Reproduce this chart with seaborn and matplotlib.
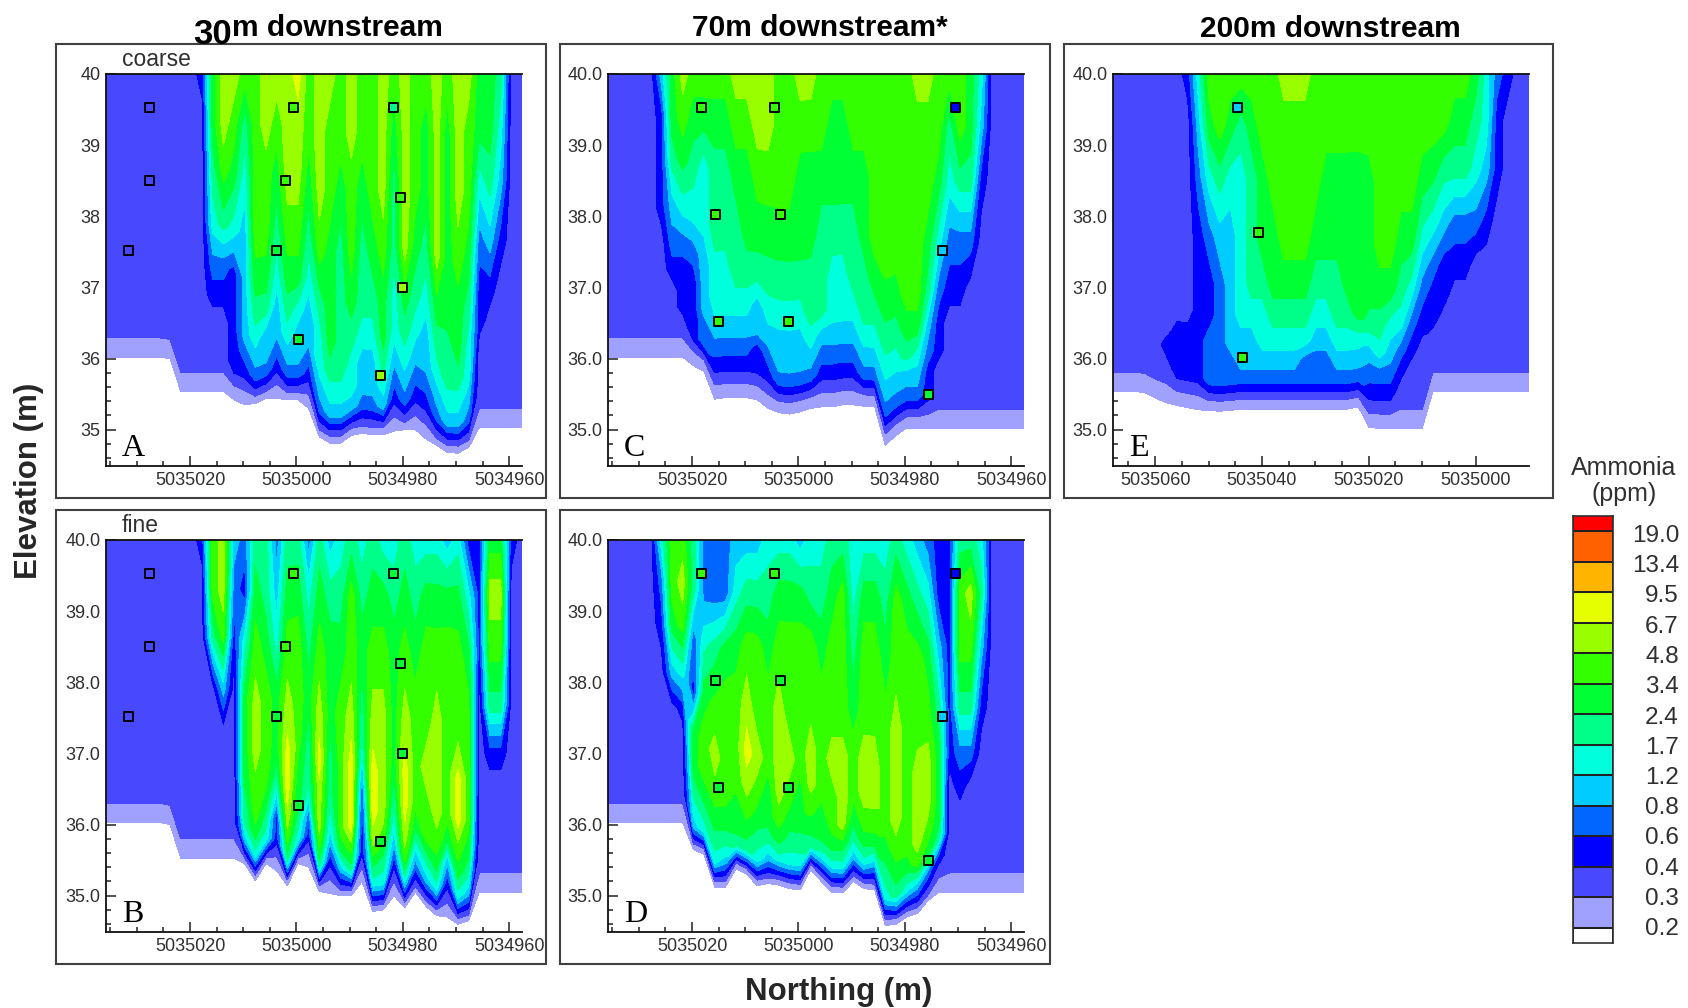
import numpy as np
import matplotlib
matplotlib.use("Agg")
import matplotlib.pyplot as plt
from matplotlib.patches import Rectangle
import seaborn as sns

W, H = 1688, 1008
BAND_COLORS = ["#FFFFFF", "#A0A0FF", "#4848FF", "#0000FF", "#0066FF", "#00CCFF", "#00FFDD", "#00FF88",
               "#00FF33", "#33FF00", "#99FF00", "#E6FF00", "#FFB400", "#FF6000", "#FF0000"]
PPM_LABELS = ["19.0", "13.4", "9.5", "6.7", "4.8", "3.4", "2.4", "1.7", "1.2", "0.8", "0.6", "0.4", "0.3", "0.2"]
OUT = [2] * 9
FRACTIONS = [.06, .12, .18, .26, .36, .5, .68, .84, 1.0]

BED_A = [36.02]*6 + [36.0] + [35.54]*5 + [35.42, 35.35, 35.37, 35.44, 35.44, 35.42, 35.42, 35.3, 34.9, 34.81, 34.81,
         34.92, 34.95, 34.93, 34.93, 34.98, 35.0, 35.0, 34.87, 34.78, 34.68, 34.67, 34.75] + [35.03]*5
PROFILES_A = [OUT]*9 + [
    [2,2,2,2,2,2,2,2,3],[2,2,2,3,4,6,7,8,8],[2,2,2,3,4,7,9,10,10],[3,3,3,3,3,6,8,9,10],[3,4,5,5,5,5,6,7,9],
    [4,5,6,7,8,9,9,9,9],[4,5,5,7,8,9,9,10,10],[3,4,5,5,6,7,8,9,10],[4,5,6,7,8,9,10,10,10],[4,5,5,6,8,9,10,10,11],
    [3,4,5,5,6,7,8,9,9],[4,5,6,6,7,9,10,10,10],[5,6,7,8,8,8,9,9,10],[5,6,7,7,7,7,8,9,9],[5,6,6,7,8,9,9,10,10],
    [4,5,5,6,7,7,8,9,9],[4,5,5,6,7,8,9,9,9],[5,6,7,8,8,9,10,10,10],[3,4,5,6,6,7,7,8,9],[4,5,6,7,8,10,10,10,10],
    [3,4,5,6,7,8,9,9,9],[3,4,5,5,6,7,8,8,9],[4,5,6,7,8,10,10,10,10],[5,6,7,7,8,8,8,8,9],[5,6,7,8,8,9,10,10,10],
    [4,5,6,6,7,8,9,9,10],[2,2,2,3,3,4,6,8,8],[2,2,2,2,3,5,7,8,8],[2,2,2,2,2,3,5,6,7],OUT,OUT]

BED_B = [36.03]*6 + [36.0] + [35.53]*6 + [35.45, 35.21, 35.45, 35.35, 35.14, 35.45, 35.4, 35.06, 35.03, 35.0, 35.0,
         35.2, 34.78, 34.8, 35.0, 34.83, 35.05, 34.85, 34.72, 34.7, 34.6, 34.65] + [35.05]*5
PROFILES_B = [OUT]*9 + [
    [2,2,2,2,2,2,2,2,3],[2,2,2,2,2,2,7,9,9],[2,2,2,2,2,5,9,10,10],[2,2,2,2,2,2,3,4,5],[5,7,7,8,8,8,6,3,4],
    [6,8,9,9,10,10,9,8,7],[6,7,8,9,9,9,8,7,7],[3,3,5,7,8,8,6,5,4],[7,9,10,11,11,10,9,8,7],[6,7,8,8,9,9,9,8,7],
    [3,4,6,7,7,8,7,6,4],[7,9,10,10,11,10,9,8,7],[3,5,6,7,7,8,8,7,5],[5,8,9,9,9,9,8,7,6],[7,9,11,11,11,10,9,9,7],
    [3,3,3,4,6,7,8,7,6],[6,8,10,11,11,10,9,8,7],[6,7,9,10,10,10,9,8,6],[3,5,6,7,8,8,8,7,6],[6,9,10,11,11,10,9,8,7],
    [4,6,8,9,9,9,8,7,6],[5,7,9,9,10,9,9,8,6],[6,8,9,10,10,10,9,8,6],[3,5,8,9,9,9,9,8,5],[6,8,9,11,11,9,9,8,6],
    [5,7,8,9,9,9,8,6,3],[2,2,2,2,2,2,3,3,3],[2,2,2,2,3,7,9,10,8],[2,2,2,2,3,7,9,10,8],[2,2,2,2,2,2,2,2,3],OUT]

BED_C = [36.02]*8 + [35.9, 35.82, 35.43, 35.45, 35.45, 35.45, 35.42, 35.3, 35.24, 35.22, 35.25, 35.3, 35.32, 35.32,
         35.35, 35.35, 35.33, 35.32, 34.78, 34.92] + [35.02]*12
PROFILES_C = [OUT]*5 + [
    [2,2,2,2,2,3,3,3,5],[2,2,2,3,4,5,7,8,8],[2,3,3,3,4,6,8,9,10],[3,3,3,3,4,6,7,8,9],[4,4,5,5,5,6,6,8,9],
    [3,4,5,6,6,7,7,8,9],[3,4,5,6,6,7,7,8,9],[3,4,5,6,7,7,8,9,10],[3,4,5,6,7,8,8,9,10],[3,3,5,5,7,8,9,10,10],
    [3,4,5,6,7,8,9,10,10],[4,5,5,6,7,8,9,9,9],[4,5,5,6,7,8,9,9,9],[4,5,5,6,7,8,8,9,10],[4,5,6,7,7,8,8,9,10],
    [3,4,5,7,7,7,8,9,9],[3,4,5,6,6,7,8,8,9],[3,4,5,6,6,7,8,8,9],[3,4,5,6,7,7,8,9,9],[4,5,6,7,7,8,8,9,9],
    [4,5,6,7,8,9,9,9,9],[4,5,6,7,8,9,9,9,9],[4,5,6,7,8,9,9,9,9],[4,5,7,8,9,9,9,9,9],[4,5,6,8,9,9,9,9,10],
    [3,3,4,5,7,8,9,9,10],[2,2,3,3,4,6,8,9,9],[2,2,2,2,3,4,6,7,9],[2,2,2,2,3,4,7,9,9],[2,2,2,2,2,4,7,8,8],
    [2,2,2,2,2,2,3,5,6],OUT,OUT,OUT,OUT]

BED_D = [36.03]*8 + [35.65, 35.58, 35.12, 35.12, 35.38, 35.3, 35.14, 35.17, 35.15, 35.1, 35.08, 35.36, 35.2, 35.05,
         35.04, 35.2, 35.1, 35.08, 34.58, 34.6, 34.7, 34.75, 34.93] + [35.05]*9
PROFILES_D = [OUT]*5 + [
    [2,2,2,2,2,2,3,4,6],[2,2,2,2,2,5,8,9,9],[2,2,2,2,3,6,9,10,9],[5,6,7,8,8,3,4,7,7],[6,7,8,9,9,8,6,4,4],
    [6,7,8,9,10,9,7,4,4],[5,7,8,9,9,9,8,4,4],[7,8,8,9,9,9,8,6,5],[7,8,9,10,11,10,9,7,5],[6,7,8,9,10,9,9,7,5],
    [5,7,8,8,9,9,8,7,6],[6,8,9,10,10,10,9,8,6],[6,7,8,9,10,9,9,8,6],[6,7,8,8,9,9,9,8,5],[7,8,9,10,10,9,9,7,6],
    [6,8,8,9,9,9,8,7,6],[6,8,9,9,10,9,9,8,7],[6,8,10,10,10,9,9,9,7],[5,7,8,9,9,8,7,6,6],[6,8,9,10,10,9,9,8,6],
    [5,8,9,10,10,9,9,8,6],[6,7,8,9,9,9,8,7,6],[7,8,9,10,10,10,9,9,7],[6,8,9,9,9,9,9,8,6],[5,9,10,10,10,9,9,7,5],
    [4,8,9,10,10,9,8,6,4],[3,7,8,8,8,7,5,3,3],[2,2,2,2,3,3,3,3,3],[2,2,2,3,4,7,9,9,7],[2,2,2,2,4,7,9,10,7],
    [2,2,2,2,2,3,5,7,6],OUT,OUT,OUT,OUT]

BED_E = [35.54]*3 + [35.52, 35.44, 35.38, 35.34, 35.31, 35.28, 35.27, 35.26, 35.27] + [35.29]*11 + [35.32] + \
        [35.03, 35.02, 35.02, 35.02, 35.02, 35.02] + [35.54]*10
PROFILES_E = [OUT]*5 + [
    [2,3,2,2,2,2,2,2,2],[3,3,3,2,2,2,2,2,2],[3,3,3,2,2,2,2,2,3],[3,3,3,3,3,3,4,5,6],[4,4,4,3,3,4,6,8,9],
    [4,4,4,4,4,5,7,9,9],[4,4,5,5,5,5,6,8,9],[4,5,5,6,6,6,6,7,9],[4,5,5,6,7,7,7,8,9],[4,5,6,6,7,8,8,9,9],
    [4,5,6,7,8,8,9,9,9],[4,5,6,7,8,9,9,9,10],[4,5,6,7,8,9,9,9,10],[4,4,6,7,8,9,9,9,10],[4,4,5,6,7,8,9,9,9],
    [4,4,5,6,7,8,8,9,9],[4,5,6,7,7,8,8,9,9],[4,5,6,7,8,8,8,9,9],[4,5,6,8,8,8,8,9,9],[3,4,5,7,8,8,8,9,9],
    [3,4,6,7,8,9,9,9,9],[3,4,5,6,8,9,9,9,9],[2,3,4,6,7,8,9,9,9],[2,2,3,4,6,8,9,9,9],[2,2,2,3,4,6,8,9,9],
    [2,2,3,3,4,6,8,9,9],[2,2,2,3,3,5,7,9,9],[2,2,2,2,3,4,7,8,9],[2,2,2,2,3,4,7,8,9],[2,2,2,2,2,4,6,7,8],
    [2,2,2,2,2,3,5,6,6],[2,2,2,2,2,2,3,3,4],[2,2,2,2,2,2,2,2,3],OUT,OUT]

ST_AB_N = [5035027.7, 5035027.7, 5035031.6, 5035000.5, 5035002.0, 5035003.7, 5034999.7, 5034981.7, 5034980.5, 5034980.0, 5034984.2]
ST_AB_E = [39.53, 38.51, 37.52, 39.53, 38.51, 37.52, 36.27, 39.53, 38.26, 37.0, 35.76]
ST_A_BAND = [2, 2, 2, 9, 9, 8, 8, 7, 9, 10, 10]
ST_B_BAND = [2, 2, 2, 9, 9, 8, 8, 8, 8, 8, 8]
ST_CD_N = [5035018.3, 5035004.5, 5034970.5, 5035015.5, 5035003.4, 5034973.0, 5035015.0, 5035001.9, 5034975.5]
ST_CD_E = [39.53, 39.53, 39.53, 38.03, 38.03, 37.52, 36.52, 36.52, 35.5]
ST_C_BAND = [9, 9, 3, 9, 9, 5, 9, 9, 8]
ST_D_BAND = [9, 9, 3, 8, 8, 5, 8, 8, 8]
ST_E_N = [5035044.5, 5035040.6, 5035043.7]
ST_E_E = [39.53, 37.77, 36.01]
ST_E_BAND = [5, 9, 9]

sns.set_theme(style="white")
plt.rcParams["font.family"] = ["Liberation Sans", "DejaVu Sans"]
fig = plt.figure(figsize=(W / 100, H / 100), dpi=100)
fig.patch.set_facecolor("white")
TXT = "#303030"


def box(x0, y0, x1, y1):
    return [x0 / W, 1 - y1 / H, (x1 - x0) / W, (y1 - y0) / H]


def panel(frame, axbox, xlim, bed, profiles, st_n, st_e, st_band, letter, major, ydec, thin, note=None):
    fx0, fy0, fx1, fy1 = frame
    fig.add_artist(Rectangle((fx0 / W, 1 - fy1 / H), (fx1 - fx0) / W, (fy1 - fy0) / H, transform=fig.transFigure,
                             fill=False, edgecolor="#404040", linewidth=1.5))
    ax = fig.add_axes(box(*axbox))
    ax.set_facecolor("white")
    n = len(bed)
    north = np.linspace(xlim[0], xlim[1], n)
    bed = np.array(bed, float)
    prof = np.array(profiles, float).T
    # the pale lowest band is thick outside the plume and thin beneath it
    lav = np.where(prof[0] <= 2, .27, np.where(prof[0] <= 3, .2, thin))
    y1 = bed + lav
    frac = np.array(FRACTIONS)[:, None]
    Y = np.vstack([bed, y1, y1 + frac * (40 - y1)])
    X = np.tile(north, (Y.shape[0], 1))
    Z = np.vstack([np.full(n, .5), np.full(n, 1.5), prof])
    levels = [0.4] + [k + .5 for k in range(1, 12)]
    ax.contourf(X, Y, Z, levels=levels, colors=BAND_COLORS[1:12], zorder=1)
    sns.scatterplot(x=st_n, y=st_e, hue=st_band, palette={b: BAND_COLORS[b] for b in set(st_band)}, marker="s", s=42,
                    edgecolor="black", linewidth=1.4, legend=False, ax=ax, zorder=5, clip_on=False)
    ax.set_xlim(xlim)
    ax.set_ylim(34.49, 40)
    ax.set_xticks(major)
    ax.set_xticklabels([str(m) for m in major])
    ax.set_xticks(np.arange(major[-1], xlim[0], 5), minor=True)
    yt = [40, 39, 38, 37, 36, 35]
    ax.set_yticks(yt)
    ax.set_yticklabels([f"{v:.{ydec}f}" for v in yt])
    ax.set_yticks(np.arange(34.6, 40, .2), minor=True)
    ax.tick_params(which="major", direction="in", length=7, width=1.1, color="#202020", labelsize=13,
                   labelcolor=TXT, pad=4, bottom=True, left=True)
    ax.tick_params(which="minor", direction="in", length=3.5, width=1.1, color="#202020", bottom=True, left=True)
    for s in ["left", "bottom", "top"]:
        ax.spines[s].set_visible(True)
        ax.spines[s].set_color("#101010")
        ax.spines[s].set_linewidth(1.3)
    ax.spines["right"].set_visible(False)
    ax.set_xlabel("")
    ax.set_ylabel("")
    ax.grid(False)
    fig.text((axbox[0] + 16) / W, 1 - (axbox[3] - 10) / H, letter, family="Liberation Serif", fontsize=23,
             color="black", va="baseline", ha="left")
    if note:
        fig.text((axbox[0] + 16) / W, 1 - (axbox[1] - 14) / H, note, fontsize=16.5, color=TXT, va="center", ha="left")
    return ax


XL_A = (5035035.8, 5034957.6)
XL_E = (5035067.9, 5034990.0)
M_A = [5035020, 5035000, 5034980, 5034960]
M_E = [5035060, 5035040, 5035020, 5035000]
panel((56, 44, 546, 498), (106, 74, 522, 466), XL_A, BED_A, PROFILES_A, ST_AB_N, ST_AB_E, ST_A_BAND, "A", M_A, 0, .1, "coarse")
panel((56, 510, 546, 964), (106, 540, 522, 932), XL_A, BED_B, PROFILES_B, ST_AB_N, ST_AB_E, ST_B_BAND, "B", M_A, 1, .08, "fine")
panel((560, 44, 1050, 498), (608, 74, 1024, 466), XL_A, BED_C, PROFILES_C, ST_CD_N, ST_CD_E, ST_C_BAND, "C", M_A, 1, .16)
panel((560, 510, 1050, 964), (608, 540, 1024, 932), XL_A, BED_D, PROFILES_D, ST_CD_N, ST_CD_E, ST_D_BAND, "D", M_A, 1, .08)
panel((1064, 44, 1553, 498), (1113, 74, 1529, 466), XL_E, BED_E, PROFILES_E, ST_E_N, ST_E_E, ST_E_BAND, "E", M_E, 1, .14)

# colour scale
cax = fig.add_axes(box(1573, 516, 1613, 943))
cell = np.arange(15)[:, None]
sns.heatmap(cell, cmap=matplotlib.colors.ListedColormap(BAND_COLORS[::-1]), cbar=False, linewidths=1.2, linecolor="#202020",
            xticklabels=False, yticklabels=False, ax=cax)
cax.set_ylim(14.5, 0.5)
cax.set_xlim(0, 1)
for s in cax.spines.values():
    s.set_visible(True)
    s.set_color("#303030")
    s.set_linewidth(1.2)
for i, lab in enumerate(PPM_LABELS):
    fig.text(1679 / W, 1 - (536 + i * 30.25) / H, lab, fontsize=17.5, ha="right", va="center", color=TXT)
fig.text(1624 / W, 1 - 468 / H, "Ammonia", fontsize=18, ha="center", va="center", color=TXT)
fig.text(1624 / W, 1 - 494 / H, "(ppm)", fontsize=18, ha="center", va="center", color=TXT)

# headings
TB = dict(fontweight="bold", color="black", va="center")
fig.text(232 / W, 1 - 28 / H, "m downstream", fontsize=21.5, ha="left", **TB)
fig.text(232 / W, 1 - 35 / H, "30", fontsize=25, ha="right", **TB)
fig.text(820 / W, 1 - 28 / H, "70m downstream*", fontsize=21.5, ha="center", **TB)
fig.text(1330 / W, 1 - 29 / H, "200m downstream", fontsize=21.5, ha="center", **TB)
fig.text(29 / W, 1 - 481 / H, "Elevation (m)", fontsize=22.5, rotation=90, ha="center", va="center", fontweight="bold")
fig.text(839 / W, 1 - 992 / H, "Northing (m)", fontsize=22.5, ha="center", va="center", fontweight="bold")

fig.savefig("out.png", dpi=100)
